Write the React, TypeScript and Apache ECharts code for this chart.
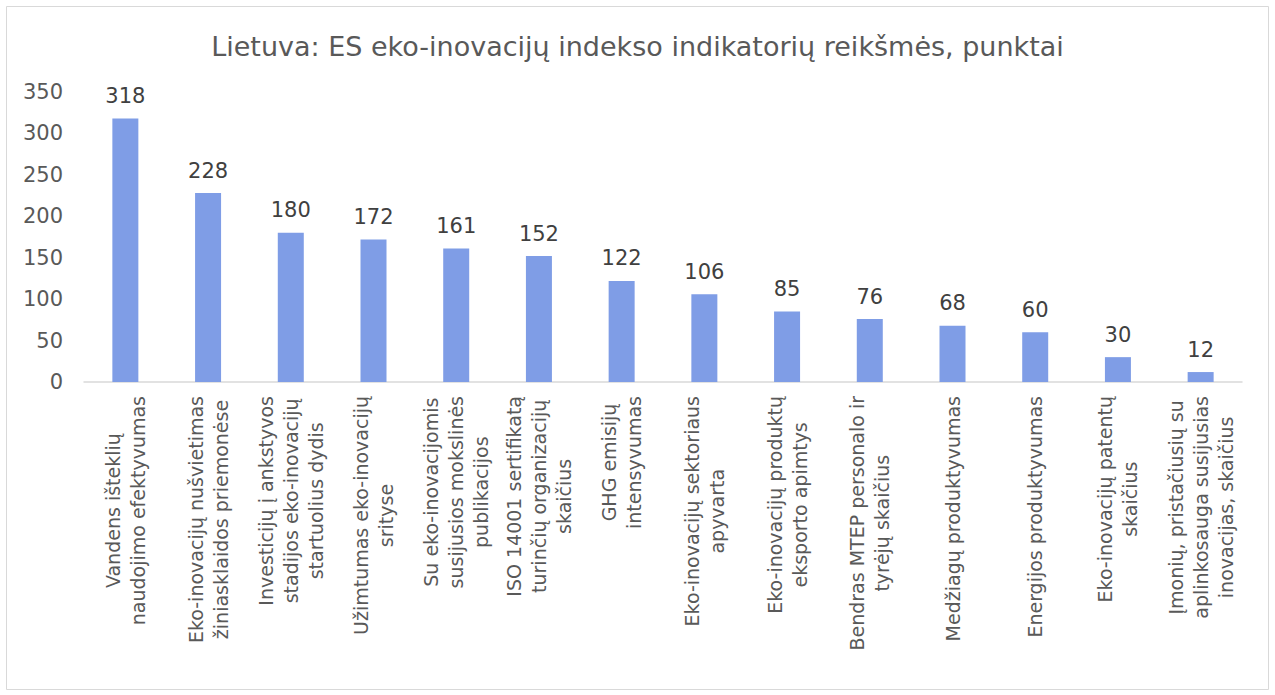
import React, { useEffect, useRef } from "react";
import * as echarts from "echarts";

const title = "Lietuva: ES eko-inovacijų indekso indikatorių reikšmės, punktai";

const categories = [
  "Vandens išteklių\nnaudojimo efektyvumas",
  "Eko-inovacijų nušvietimas\nžiniasklaidos priemonėse",
  "Investicijų į ankstyvos\nstadijos eko-inovacijų\nstartuolius dydis",
  "Užimtumas eko-inovacijų\nsrityse",
  "Su eko-inovacijomis\nsusijusios mokslinės\npublikacijos",
  "ISO 14001 sertifikatą\nturinčių organizacijų\nskaičius",
  "GHG emisijų\nintensyvumas",
  "Eko-inovacijų sektoriaus\napyvarta",
  "Eko-inovacijų produktų\neksporto apimtys",
  "Bendras MTEP personalo ir\ntyrėjų skaičius",
  "Medžiagų produktyvumas",
  "Energijos produktyvumas",
  "Eko-inovacijų patentų\nskaičius",
  "Įmonių, pristačiusių su\naplinkosauga susijusias\ninovacijas, skaičius",
];

const values = [318, 228, 180, 172, 161, 152, 122, 106, 85, 76, 68, 60, 30, 12];

const yMin = 0;
const yMax = 350;
const yStep = 50;

const FONT = "'DejaVu Sans', Verdana, sans-serif";

export default function App() {
  const ref = useRef<HTMLDivElement>(null);

  useEffect(() => {
    if (!ref.current) return;
    const chart = echarts.init(ref.current, undefined, { renderer: "svg" });
    chart.setOption({
      animation: false,
      backgroundColor: "#ffffff",
      title: {
        text: title,
        left: "center",
        top: 28,
        textStyle: {
          fontFamily: FONT,
          fontSize: 27,
          fontWeight: "normal",
          color: "#595959",
        },
      },
      graphic: [
        {
          type: "rect",
          shape: { x: 6.5, y: 6.5, width: 1262, height: 683 },
          style: { fill: "none", stroke: "#d9d9d9", lineWidth: 1 },
          silent: true,
        },
      ],
      grid: { left: 84, right: 33, top: 92, bottom: 313, containLabel: false },
      xAxis: {
        type: "category",
        data: categories,
        axisLine: { show: true, lineStyle: { color: "#d9d9d9", width: 1.5 } },
        axisTick: { show: false },
        splitLine: { show: false },
        axisLabel: {
          interval: 0,
          rotate: 90,
          margin: 14,
          fontFamily: FONT,
          fontSize: 19,
          color: "#595959",
          lineHeight: 25,
          formatter: (v: string) =>
            v
              .split("\n")
              .map((l) => `{c|${l}}`)
              .join("\n"),
          rich: {
            c: {
              align: "center",
              fontFamily: FONT,
              fontSize: 19,
              color: "#595959",
              lineHeight: 25,
            },
          },
        },
      },
      yAxis: {
        type: "value",
        min: yMin,
        max: yMax,
        interval: yStep,
        axisLine: { show: false },
        axisTick: { show: false },
        splitLine: { show: false },
        axisLabel: {
          margin: 21,
          fontFamily: FONT,
          fontSize: 21,
          color: "#595959",
        },
      },
      series: [
        {
          type: "bar",
          data: values,
          barWidth: 26,
          itemStyle: { color: "#7f9de6" },
          label: {
            show: true,
            position: "top",
            distance: 12,
            fontFamily: FONT,
            fontSize: 21,
            color: "#404040",
          },
        },
      ],
    });
    return () => chart.dispose();
  }, []);

  return (
    <div
      ref={ref}
      style={{ position: "fixed", left: 0, top: 0, width: 1275, height: 695 }}
    />
  );
}
